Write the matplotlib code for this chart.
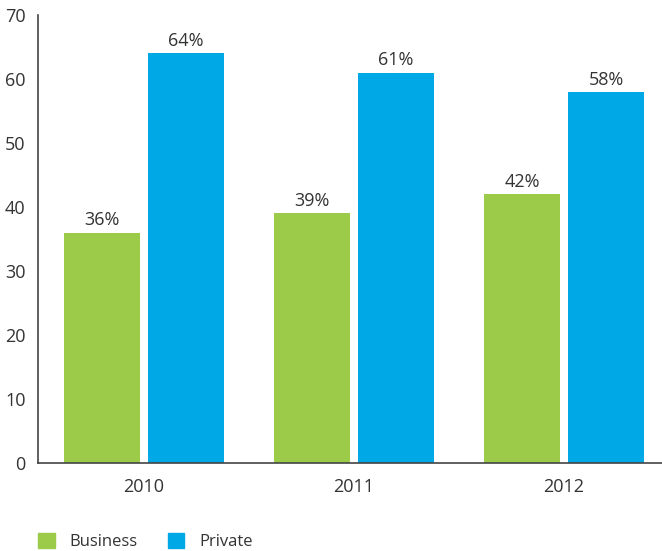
import numpy as np
import matplotlib.pyplot as plt
from matplotlib.patches import Patch

plt.rcParams['font.family'] = ['Open Sans', 'DejaVu Sans']

years = ['2010', '2011', '2012']
business = [36, 39, 42]
private = [64, 61, 58]
green = '#9CCB4A'
blue = '#00A8E5'
text_col = '#333333'

fig = plt.figure(figsize=(6.62, 5.51), dpi=100)
ax = fig.add_axes([38 / 662, 88 / 551, 624 / 662, 448 / 551])

x = np.arange(len(years))
w = 0.362
b1 = ax.bar(x - 0.2, business, w, color=green)
b2 = ax.bar(x + 0.2, private, w, color=blue)

for bars in (b1, b2):
    for r in bars:
        ax.text(r.get_x() + r.get_width() / 2, r.get_height() + 0.5,
                '%d%%' % r.get_height(), ha='center', va='bottom',
                fontsize=13, color=text_col)

ax.set_xlim(-0.505, 2.467)
ax.set_ylim(0, 70)
ax.set_yticks(np.arange(0, 71, 10))
ax.set_xticks(x)
ax.set_xticklabels(years)
ax.tick_params(length=0, labelsize=13, colors=text_col)
ax.tick_params(axis='x', pad=11)
ax.tick_params(axis='y', pad=9)
for s in ['top', 'right']:
    ax.spines[s].set_visible(False)
for s in ['left', 'bottom']:
    ax.spines[s].set_color('#444444')
    ax.spines[s].set_linewidth(1.2)

handles = [Patch(color=green, label='Business'), Patch(color=blue, label='Private')]
fig.legend(handles=handles, loc='lower left', bbox_to_anchor=(38 / 662, 1 / 551),
           ncol=2, frameon=False, fontsize=12, handlelength=1.0,
           handleheight=1.0, handletextpad=0.9, columnspacing=1.8,
           borderpad=0, borderaxespad=0, labelcolor=text_col)

fig.savefig('out.png', dpi=100)
